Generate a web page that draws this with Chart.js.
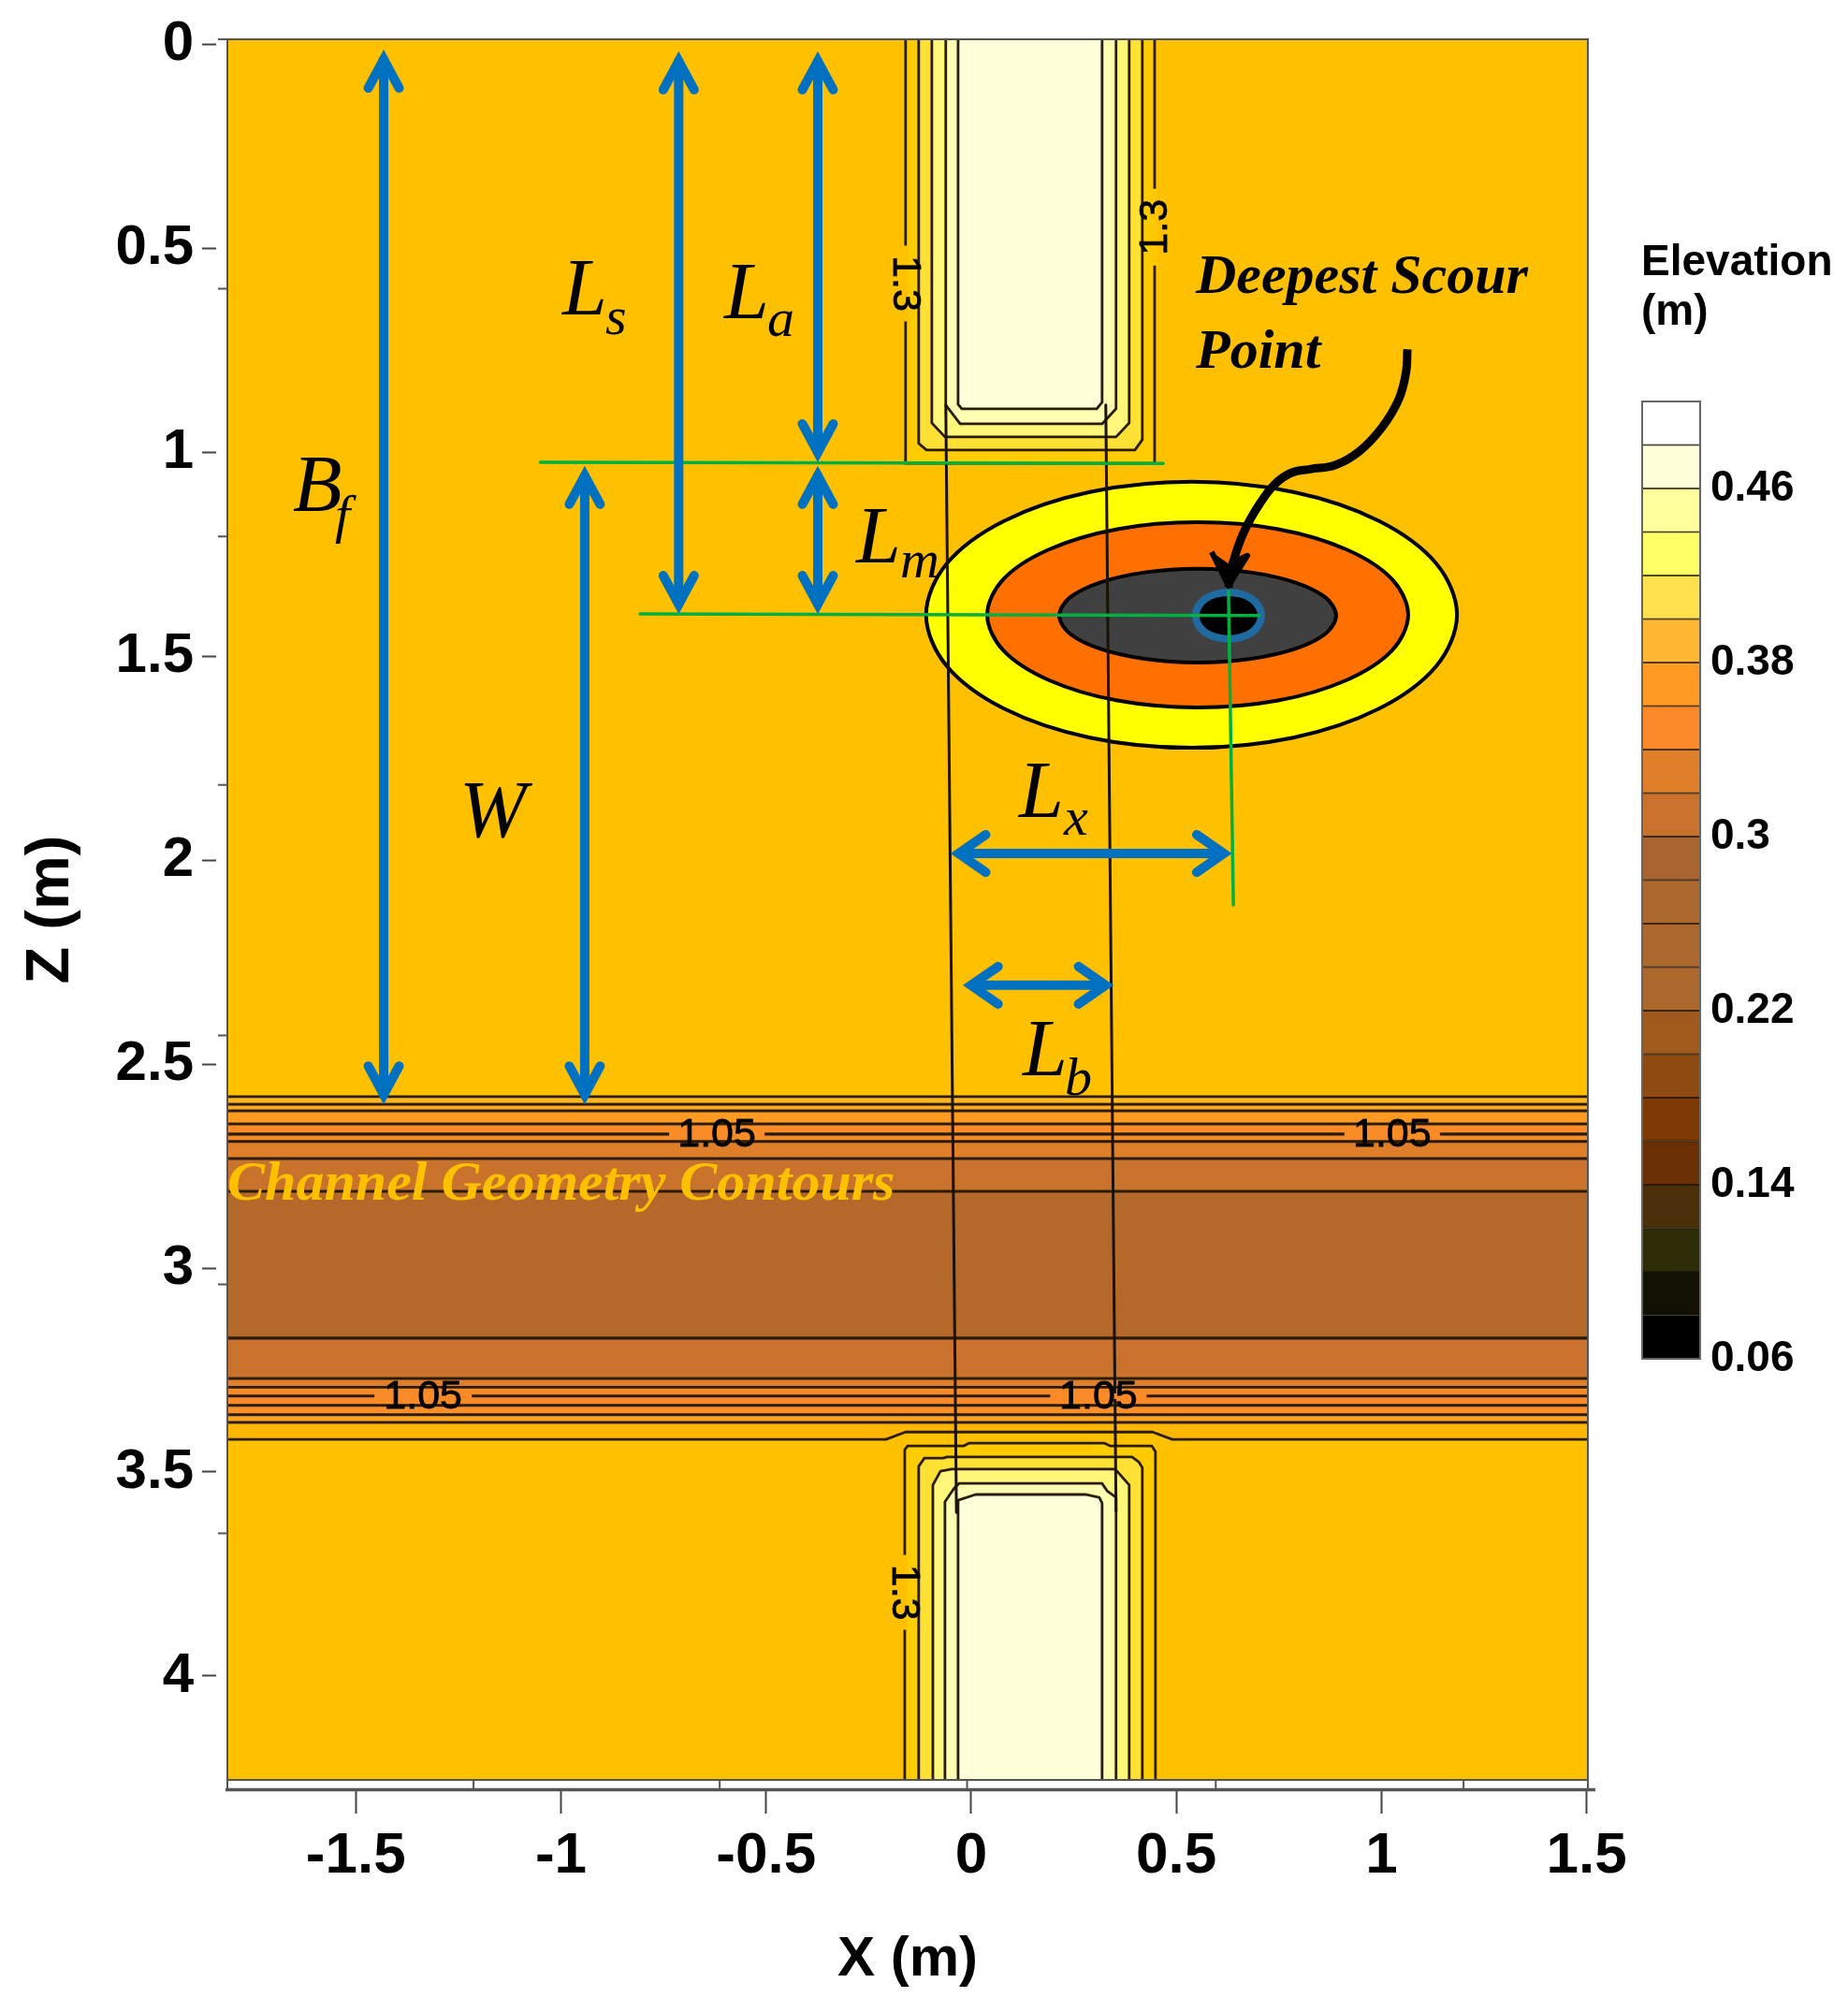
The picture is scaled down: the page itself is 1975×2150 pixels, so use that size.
<!DOCTYPE html>
<html>
<head>
<meta charset="utf-8">
<title>Elevation contours</title>
<script src="https://cdn.jsdelivr.net/npm/chart.js@4"></script>
<style>
  body { margin: 0; background: #fff; }
  canvas { position: absolute; left: 0; top: 0; }
</style>
</head>
<body>
<canvas id="plot" width="1975" height="2150"></canvas>
<canvas id="bar" width="1975" height="2150"></canvas>
<script>
// axes
const xTicks = [-1.5, -1, -0.5, 0, 0.5, 1, 1.5];
const zTicks = [0, 0.5, 1, 1.5, 2, 2.5, 3, 3.5, 4];
const xInnerTicks = [-1.213, -0.613, -0.01, 0.596, 1.2];
const zInnerTicks = [0.6, 1.207, 1.816, 2.43, 3.04, 3.65];

// colour bar
const barLevels = [0.06, 0.08, 0.10, 0.12, 0.14, 0.16, 0.18, 0.20, 0.22, 0.24, 0.26, 0.28, 0.30, 0.32, 0.34, 0.36, 0.38, 0.40, 0.42, 0.44, 0.46, 0.48, 0.50];
const barColors = ['#000000', '#121002', '#2e2c06', '#4a3008', '#6a3004', '#7e3a02', '#8e4a10', '#a05a1e', '#ad682e', '#ad682e', '#ad682e', '#a8642e', '#c8722c', '#e07f2a', '#fa8a28', '#ff9a22', '#ffb733', '#ffe14d', '#ffff66', '#ffff9e', '#ffffd9', '#ffffff'];
const barTicks = [0.06, 0.14, 0.22, 0.3, 0.38, 0.46];

// channel bands, z levels top to bottom
const channelZ = [2.580, 2.599, 2.615, 2.647, 2.672, 2.690, 2.732, 2.812, 3.172, 3.271, 3.292, 3.314, 3.337, 3.360, 3.378];
const channelColors = ['#ffb820', '#ffaa22', '#ff9a22', '#fa8c28', '#f58a28', '#e07f2a', '#c8722c', '#b4692b', '#c8722c', '#e07f2a', '#f58a28', '#fa8a28', '#fb8f28', '#ffa524'];
const shoulderX = [-1.9, 1.6, 1.6, 0.490, 0.442, -0.160, -0.208, -1.9];
const shoulderZ = [3.378, 3.378, 3.420, 3.420, 3.402, 3.402, 3.420, 3.420];

// upstream abutment contours, outer to inner
const topX1 = [-0.160, -0.160, 0.447, 0.447];
const topZ1 = [-0.05, 1.028, 1.028, -0.05];
const topX2 = [-0.128, -0.128, -0.109, 0.399, 0.417, 0.417];
const topZ2 = [-0.05, 0.979, 0.995, 0.995, 0.970, -0.05];
const topX3 = [-0.096, -0.096, -0.064, 0.353, 0.385, 0.385];
const topZ3 = [-0.05, 0.929, 0.963, 0.963, 0.929, -0.05];
const topX4 = [-0.062, -0.062, -0.027, 0.319, 0.353, 0.353];
const topZ4 = [-0.05, 0.885, 0.931, 0.931, 0.894, -0.05];
const topX5 = [-0.032, -0.032, -0.023, 0.306, 0.319, 0.319];
const topZ5 = [-0.05, 0.883, 0.894, 0.894, 0.878, -0.05];

// downstream abutment contours, outer to inner
const botX1 = [-0.162, -0.162, -0.155, -0.018, -0.005, 0.324, 0.338, 0.440, 0.449, 0.449];
const botZ1 = [4.3, 3.445, 3.436, 3.436, 3.429, 3.429, 3.436, 3.436, 3.450, 4.3];
const botX2 = [-0.128, -0.128, -0.114, -0.068, -0.059, 0.392, 0.408, 0.417, 0.417];
const botZ2 = [4.3, 3.486, 3.466, 3.466, 3.463, 3.463, 3.475, 3.489, 4.3];
const botX3 = [-0.0935, -0.0935, -0.075, -0.048, 0.351, 0.385, 0.385];
const botZ3 = [4.3, 3.532, 3.498, 3.493, 3.493, 3.532, 4.3];
const botX4 = [-0.064, -0.064, -0.041, -0.030, 0.319, 0.331, 0.353, 0.353];
const botZ4 = [4.3, 3.573, 3.539, 3.528, 3.528, 3.546, 3.562, 4.3];
const botX5 = [-0.032, -0.032, 0.011, 0.278, 0.312, 0.319, 0.319];
const botZ5 = [4.3, 3.569, 3.555, 3.555, 3.562, 3.576, 4.3];

// scour hole outlines, first point repeated at the end
const holeX1 = [1.184, 1.134, 0.994, 0.785, 0.537, 0.289, 0.080, -0.060, -0.110, -0.060, 0.080, 0.289, 0.537, 0.785, 0.994, 1.134, 1.184];
const holeZ1 = [1.399, 1.524, 1.629, 1.700, 1.725, 1.700, 1.629, 1.524, 1.399, 1.274, 1.169, 1.098, 1.073, 1.098, 1.169, 1.274, 1.399];
const holeX2 = [1.065, 1.026, 0.915, 0.748, 0.552, 0.356, 0.189, 0.078, 0.039, 0.078, 0.189, 0.356, 0.552, 0.748, 0.915, 1.026, 1.065];
const holeZ2 = [1.399, 1.486, 1.559, 1.609, 1.626, 1.609, 1.559, 1.486, 1.399, 1.312, 1.239, 1.189, 1.172, 1.189, 1.239, 1.312, 1.399];
const holeX3 = [0.8895, 0.864, 0.791, 0.681, 0.552, 0.423, 0.313, 0.240, 0.2145, 0.240, 0.313, 0.423, 0.552, 0.681, 0.791, 0.864, 0.8895];
const holeZ3 = [1.401, 1.445, 1.482, 1.507, 1.516, 1.507, 1.482, 1.445, 1.401, 1.357, 1.320, 1.295, 1.286, 1.295, 1.320, 1.357, 1.401];
const holeX4 = [0.707, 0.701, 0.684, 0.658, 0.627, 0.596, 0.570, 0.553, 0.547, 0.553, 0.570, 0.596, 0.627, 0.658, 0.684, 0.701, 0.707];
const holeZ4 = [1.401, 1.423, 1.442, 1.454, 1.458, 1.454, 1.442, 1.423, 1.401, 1.379, 1.360, 1.348, 1.344, 1.348, 1.360, 1.379, 1.401];

// channel geometry lines
const sideX1 = [-0.062, -0.036];
const sideZ1 = [0.885, 3.599];
const sideX2 = [0.328, 0.353];
const sideZ2 = [0.885, 3.596];

// green guides
const guideX1 = [-1.050, 0.468];
const guideZ1 = [1.025, 1.028];
const guideX2 = [-0.807, 0.702];
const guideZ2 = [1.397, 1.401];
const guideX3 = [0.627, 0.639];
const guideZ3 = [1.341, 2.110];

// dimension arrows: x1, z1, x2, z2 (tip to tip)
const arrowBf = [-1.432, 0.014, -1.432, 2.599];
const arrowW = [-0.942, 1.034, -0.942, 2.599];
const arrowLs = [-0.713, 0.018, -0.713, 1.397];
const arrowLa = [-0.374, 0.018, -0.374, 1.025];
const arrowLm = [-0.374, 1.034, -0.374, 1.397];
const arrowLx = [-0.051, 1.984, 0.636, 1.984];
const arrowLb = [-0.021, 2.307, 0.348, 2.307];

// pointer to the deepest point
const pointerX = [1.063, 1.060, 1.042, 1.001, 0.946, 0.887, 0.826, 0.780, 0.741, 0.705, 0.666, 0.639, 0.627];
const pointerZ = [0.748, 0.803, 0.871, 0.940, 0.998, 1.032, 1.042, 1.051, 1.078, 1.124, 1.193, 1.268, 1.332];
const pointerHeadX = [0.586, 0.627, 0.673, 0.629];
const pointerHeadZ = [1.245, 1.328, 1.254, 1.275];

// contour labels: text, x, z, rotation
const labelText = ['1.3', '1.3', '1.3', '1.05', '1.05', '1.05', '1.05'];
const labelX = [-0.160, 0.447, -0.162, -0.620, 1.026, -1.336, 0.310];
const labelZ = [0.587, 0.449, 3.795, 2.672, 2.672, 3.314, 3.314];
const labelAngle = [90, -90, 90, 0, 0, 0, 0];
const labelGap = [81, 82, 80, 102, 102, 104, 103];
const labelBack = ['#ffc000', '#ffc800', '#ffc000', '#fa8c28', '#fa8c28', '#fa8a28', '#fa8a28'];

const CONTOUR = '#2b1c08';

function pts(xs, zs) {
  return xs.map((x, i) => ({ x: x, y: zs[i] }));
}

function poly(xs, zs, color, width, tension) {
  return {
    data: pts(xs, zs),
    fill: 'shape',
    backgroundColor: color,
    borderColor: CONTOUR,
    borderWidth: width === undefined ? 2.8 : width,
    borderJoinStyle: 'round',
    tension: tension || 0,
    pointRadius: 0,
    clip: 0
  };
}

function stroke(xs, zs, color, width, tension) {
  return {
    data: pts(xs, zs),
    fill: false,
    borderColor: color,
    borderWidth: width,
    borderCapStyle: 'round',
    borderJoinStyle: 'round',
    tension: tension || 0,
    pointRadius: 0,
    clip: 0
  };
}

// closed outline: run one point past the seam at both ends and leave those two
// spans unstroked, so the spline has no kink where it closes
function loop(xs, zs, color, width, edge) {
  const n = xs.length;
  const d = poly([xs[n - 2], ...xs, xs[1]], [zs[n - 2], ...zs, zs[1]], color, width, 0.34);
  d.borderColor = edge;
  d.segment = {
    borderColor: ctx => (ctx.p0DataIndex === 0 || ctx.p1DataIndex === n + 1) ? 'rgba(0,0,0,0)' : undefined
  };
  return d;
}

// shaft plus two heads, pointed tips come from the miter join
function arrow(a) {
  const [x1, z1, x2, z2] = a;
  const parts = [];
  const head = (xs, zs) => {
    const d = stroke(xs, zs, '#0070c0', 10);
    d.borderJoinStyle = 'miter';
    parts.push(d);
  };
  if (x1 === x2) {
    const bx = 0.0376, bz = 0.07, inset = 0.024;
    const za = z1 + inset, zb = z2 - inset;
    const shaft = stroke([x1, x2], [za, zb], '#0070c0', 10);
    shaft.borderCapStyle = 'butt';
    parts.push(shaft);
    head([x1 - bx, x1, x1 + bx], [za + bz, za, za + bz]);
    head([x2 - bx, x2, x2 + bx], [zb - bz, zb, zb - bz]);
  } else {
    const bx = 0.066, bz = 0.046, inset = 0.0205;
    const xa = x1 + inset, xb = x2 - inset;
    const shaft = stroke([xa, xb], [z1, z2], '#0070c0', 10);
    shaft.borderCapStyle = 'butt';
    parts.push(shaft);
    head([xa + bx, xa, xa + bx], [z1 - bz, z1, z1 + bz]);
    head([xb - bx, xb, xb - bx], [z2 - bz, z2, z2 + bz]);
  }
  return parts;
}

// painted in list order, first is lowest
const layers = [];
layers.push(poly([-1.9, 1.6, 1.6, -1.9], [-0.05, -0.05, 4.3, 4.3], '#ffc000', 0));

[[topX1, topZ1, '#ffcc00'], [topX2, topZ2, '#ffe135'], [topX3, topZ3, '#fff77a'], [topX4, topZ4, '#ffffb4'], [topX5, topZ5, '#ffffd9'],
 [botX1, botZ1, '#ffcc00'], [botX2, botZ2, '#ffe135'], [botX3, botZ3, '#fff77a'], [botX4, botZ4, '#ffffb4'], [botX5, botZ5, '#ffffd9']]
  .forEach(c => layers.push(poly(c[0], c[1], c[2])));

layers.push(poly(shoulderX, shoulderZ, '#ffb600'));
channelColors.forEach((c, i) => {
  layers.push(poly([-1.9, 1.6, 1.6, -1.9], [channelZ[i], channelZ[i], channelZ[i + 1], channelZ[i + 1]], c));
});

layers.push(loop(holeX1, holeZ1, '#ffff00', 4, '#000000'));
layers.push(loop(holeX2, holeZ2, '#ff7000', 4, '#000000'));
layers.push(loop(holeX3, holeZ3, '#404040', 4, '#000000'));

layers.push(stroke(sideX1, sideZ1, '#1a1206', 3));
layers.push(stroke(sideX2, sideZ2, '#1a1206', 3));

layers.push(loop(holeX4, holeZ4, '#000000', 8, '#1f6aa0'));

layers.push(stroke(guideX1, guideZ1, '#00b040', 3.5));
layers.push(stroke(guideX2, guideZ2, '#00b040', 3.5));
layers.push(stroke(guideX3, guideZ3, '#00b040', 3.5));

[arrowBf, arrowW, arrowLs, arrowLa, arrowLm, arrowLx, arrowLb].forEach(a => layers.push(...arrow(a)));

const pointer = stroke(pointerX, pointerZ, '#000000', 9, 0.4);
pointer.borderCapStyle = 'butt';
layers.push(pointer);
const head = poly(pointerHeadX, pointerHeadZ, '#000000', 6);
head.borderColor = '#000000';
layers.push(head);

layers.forEach((d, i) => { d.order = layers.length - i; });

function italicLabel(ctx, main, sub, x, y, sx, sy) {
  ctx.fillStyle = '#000';
  ctx.font = 'italic 86px "Liberation Serif"';
  ctx.fillText(main, x, y);
  if (sub) {
    ctx.font = 'italic 58px "Liberation Serif"';
    ctx.fillText(sub, sx, sy);
  }
}

const overlay = {
  id: 'overlay',
  afterDatasetsDraw(chart) {
    const ctx = chart.ctx;
    const sx = chart.scales.x, sy = chart.scales.y;
    ctx.save();

    // contour labels with the line broken behind them
    labelText.forEach((t, i) => {
      ctx.save();
      ctx.translate(sx.getPixelForValue(labelX[i]), sy.getPixelForValue(labelZ[i]));
      ctx.rotate(labelAngle[i] * Math.PI / 180);
      ctx.fillStyle = labelBack[i];
      ctx.fillRect(-labelGap[i] / 2, -3, labelGap[i], 6);
      ctx.fillStyle = '#000';
      ctx.strokeStyle = '#000';
      ctx.lineWidth = 0.8;
      ctx.font = '43px "Liberation Sans"';
      ctx.textAlign = 'center';
      ctx.textBaseline = 'middle';
      ctx.fillText(t, 0, 1);
      ctx.strokeText(t, 0, 1);
      ctx.restore();
    });

    ctx.textAlign = 'left';
    ctx.textBaseline = 'alphabetic';
    italicLabel(ctx, 'L', 's', 601, 336, 647, 357);
    italicLabel(ctx, 'L', 'a', 774, 340, 820, 359);
    italicLabel(ctx, 'B', 'f', 313, 546, 358, 569);
    italicLabel(ctx, 'W', '', 491, 894);
    italicLabel(ctx, 'L', 'm', 915, 601, 962, 617);
    italicLabel(ctx, 'L', 'x', 1089, 873, 1137, 892);
    italicLabel(ctx, 'L', 'b', 1093, 1149, 1138, 1170);

    ctx.fillStyle = '#000';
    ctx.font = 'italic bold 60px "Liberation Serif"';
    ctx.fillText('Deepest Scour', 1278, 313);
    ctx.fillText('Point', 1278, 393);

    ctx.fillStyle = '#ffc000';
    ctx.font = 'italic bold 60px "Liberation Serif"';
    ctx.fillText('Channel Geometry Contours', 243, 1282);
    ctx.restore();
  },
  afterDraw(chart) {
    const ctx = chart.ctx;
    const a = chart.chartArea;
    const sx = chart.scales.x, sy = chart.scales.y;
    ctx.save();
    ctx.strokeStyle = '#555';
    ctx.lineWidth = 2;
    ctx.beginPath();
    ctx.moveTo(a.left - 10, a.top);
    ctx.lineTo(a.right, a.top);
    ctx.lineTo(a.right, a.bottom);
    ctx.moveTo(a.left, a.top);
    ctx.lineTo(a.left, a.bottom + 10);
    ctx.moveTo(a.left, a.bottom);
    ctx.lineTo(a.right, a.bottom);
    zInnerTicks.forEach(v => {
      const y = sy.getPixelForValue(v);
      ctx.moveTo(a.left - 10, y);
      ctx.lineTo(a.left, y);
    });
    xInnerTicks.forEach(v => {
      const x = sx.getPixelForValue(v);
      ctx.moveTo(x, a.bottom);
      ctx.lineTo(x, a.bottom + 10);
    });
    ctx.moveTo(a.right, a.bottom);
    ctx.lineTo(a.right, a.bottom + 10);
    ctx.stroke();
    ctx.lineWidth = 3.5;
    ctx.beginPath();
    ctx.moveTo(a.left - 2, a.bottom + 10.5);
    ctx.lineTo(a.right + 8, a.bottom + 10.5);
    ctx.stroke();
    ctx.restore();
  }
};

new Chart(document.getElementById('plot'), {
  type: 'line',
  data: { datasets: layers },
  plugins: [overlay],
  options: {
    responsive: false,
    animation: false,
    devicePixelRatio: 1,
    layout: { padding: { left: 0, top: 42, right: 278, bottom: 0 } },
    plugins: { legend: { display: false }, tooltip: { enabled: false } },
    scales: {
      x: {
        type: 'linear',
        min: -1.813,
        max: 1.503,
        afterBuildTicks: s => { s.ticks = xTicks.map(v => ({ value: v })); },
        afterFit: s => { s.height = 248; s.paddingLeft = 0; s.paddingRight = 0; },
        border: { display: false },
        grid: { drawOnChartArea: false, tickLength: 36, tickWidth: 2, tickColor: '#444', tickBorderDash: [0, 11, 25, 100] },
        ticks: {
          callback: v => String(v),
          autoSkip: false,
          maxRotation: 0,
          padding: 9,
          color: '#000',
          font: { family: 'Liberation Sans', weight: 'bold', size: 62 }
        },
        title: {
          display: true,
          text: 'X (m)',
          color: '#000',
          font: { family: 'Liberation Sans', weight: 'bold', size: 60 },
          padding: { top: 0, bottom: 20 }
        }
      },
      y: {
        type: 'linear',
        reverse: true,
        min: -0.0115,
        max: 4.2546,
        afterBuildTicks: s => { s.ticks = zTicks.map(v => ({ value: v })); },
        afterFit: s => { s.width = 243; s.paddingTop = 0; s.paddingBottom = 0; },
        border: { display: false },
        grid: { drawOnChartArea: false, tickLength: 27, tickWidth: 2, tickColor: '#444', tickBorderDash: [15, 100] },
        ticks: {
          callback: v => String(v),
          autoSkip: false,
          padding: 9,
          color: '#000',
          font: { family: 'Liberation Sans', weight: 'bold', size: 60 }
        },
        title: {
          display: true,
          text: 'Z (m)',
          color: '#000',
          font: { family: 'Liberation Sans', weight: 'bold', size: 65 },
          padding: { top: 16, bottom: 0 }
        }
      }
    }
  }
});

// colour bar, drawn as floating bars on its own canvas over the plot
const barTitle = {
  id: 'barTitle',
  afterDraw(chart) {
    const ctx = chart.ctx;
    const a = chart.chartArea;
    ctx.save();
    ctx.strokeStyle = '#666';
    ctx.lineWidth = 2;
    ctx.strokeRect(a.left, a.top, a.right - a.left, a.bottom - a.top);
    ctx.fillStyle = '#000';
    ctx.font = 'bold 46px "Liberation Sans"';
    ctx.fillText('Elevation', 1754, 294);
    ctx.fillText('(m)', 1754, 347);
    ctx.restore();
  }
};

new Chart(document.getElementById('bar'), {
  type: 'bar',
  data: {
    labels: ['Elevation'],
    datasets: barColors.map((c, i) => ({
      data: [[barLevels[i], barLevels[i + 1]]],
      backgroundColor: c,
      borderColor: '#1c1408',
      borderWidth: { top: 1.2, bottom: 1.2, left: 0, right: 0 },
      borderSkipped: false,
      grouped: false,
      barPercentage: 1,
      categoryPercentage: 1
    }))
  },
  plugins: [barTitle],
  options: {
    responsive: false,
    animation: false,
    devicePixelRatio: 1,
    layout: { padding: { left: 1755, top: 429, right: 0, bottom: 698 } },
    plugins: { legend: { display: false }, tooltip: { enabled: false } },
    scales: {
      x: { display: false },
      y: {
        position: 'right',
        min: 0.06,
        max: 0.50,
        afterBuildTicks: s => { s.ticks = barTicks.map(v => ({ value: v })); },
        afterFit: s => { s.width = 158; s.paddingTop = 0; s.paddingBottom = 0; },
        border: { display: false },
        grid: { display: false, drawTicks: false },
        ticks: {
          callback: v => String(v),
          autoSkip: false,
          padding: 11,
          color: '#000',
          font: { family: 'Liberation Sans', weight: 'bold', size: 46 }
        }
      }
    }
  }
});
</script>
</body>
</html>
